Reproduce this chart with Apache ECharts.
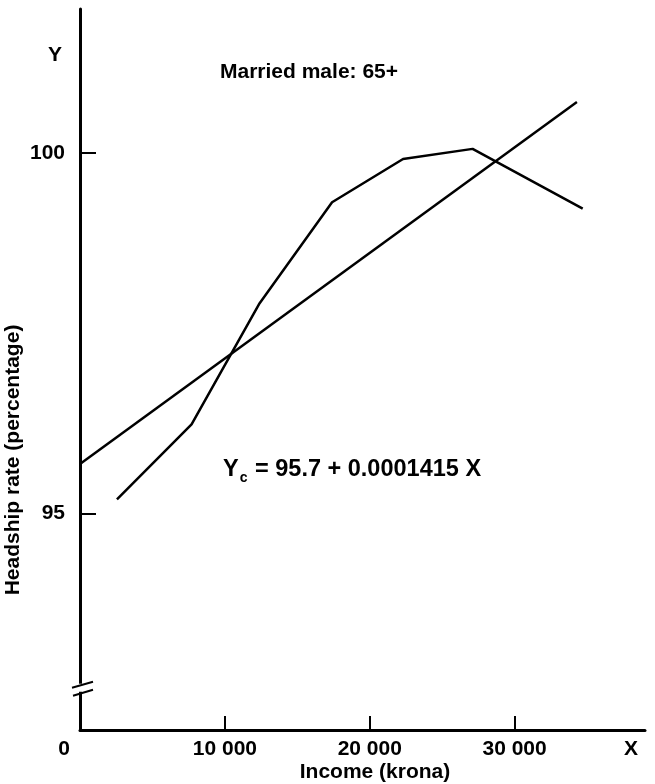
<!DOCTYPE html>
<html>
<head>
<meta charset="utf-8">
<script src="https://cdn.jsdelivr.net/npm/echarts@6/dist/echarts.min.js"></script>
<style>
html,body{margin:0;padding:0;background:#fff;}
#chart{width:655px;height:784px;}
</style>
</head>
<body>
<div id="chart"></div>
<script>
// ---- data ----
const incomeX = [2550, 7700, 12400, 17400, 22300, 27100, 34700];
const headshipRate = [95.20, 96.24, 97.92, 99.32, 99.92, 100.06, 99.23];
const regressionX = [0, 34300];
const regressionY = [95.69, 100.71];
const xTickValues = [0, 10000, 20000, 30000];
const xTickLabels = ['0', '10 000', '20 000', '30 000'];
const yTickValues = [95, 100];
const yTickLabels = ['95', '100'];
const titleText = 'Married male: 65+';
const xAxisTitle = 'Income (krona)';
const yAxisTitle = 'Headship rate (percentage)';

const FONT = '"Liberation Sans", Arial, sans-serif';
const chart = echarts.init(document.getElementById('chart'), null, {renderer: 'canvas'});

const curveData = incomeX.map((x, i) => [x, headshipRate[i]]);
const regData = regressionX.map((x, i) => [x, regressionY[i]]);

chart.setOption({
  animation: false,
  backgroundColor: '#fff',
  grid: {left: 80, right: 10, top: 9, bottom: 54, containLabel: false},
  xAxis: {
    type: 'value', min: 0, max: 39000,
    axisLine: {show: true, lineStyle: {color: '#000', width: 3}},
    axisTick: {show: true, inside: true, length: 14, lineStyle: {color: '#000', width: 2},
      customValues: xTickValues.filter(v => v !== 0)},
    axisLabel: {
      customValues: xTickValues,
      margin: 9,
      color: '#000', fontFamily: FONT, fontWeight: 'bold', fontSize: 21,
      formatter: function (v) {
        const i = xTickValues.indexOf(v);
        const t = i >= 0 ? xTickLabels[i] : '';
        return v === 0 ? '{z|' + t + '}' : t;
      },
      rich: {z: {padding: [0, 32, 0, 0], color: '#000', fontFamily: FONT, fontWeight: 'bold', fontSize: 21}}
    },
    splitLine: {show: false}
  },
  yAxis: {
    type: 'value', min: 92, max: 102,
    axisLine: {show: true, lineStyle: {color: '#000', width: 3}},
    axisTick: {show: true, inside: true, length: 16, lineStyle: {color: '#000', width: 2},
      customValues: yTickValues},
    axisLabel: {
      customValues: yTickValues,
      margin: 15,
      color: '#000', fontFamily: FONT, fontWeight: 'bold', fontSize: 21,
      formatter: function (v) {
        const i = yTickValues.indexOf(v);
        return i >= 0 ? yTickLabels[i] : '';
      }
    },
    splitLine: {show: false}
  },
  series: [
    {type: 'line', data: curveData, symbol: 'none', lineStyle: {color: '#000', width: 2.5}},
    {type: 'line', data: regData, symbol: 'none', lineStyle: {color: '#000', width: 2.5}}
  ]
});

// decorations positioned from the axes
const yBrk = chart.convertToPixel({yAxisIndex: 0}, 92.6);
const x0 = chart.convertToPixel({xAxisIndex: 0}, 0);
const yTop = chart.convertToPixel({yAxisIndex: 0}, 102);
const yAxisLine = chart.convertToPixel({yAxisIndex: 0}, 92);
const txt = {fill: '#000', fontFamily: FONT, fontWeight: 'bold'};

chart.setOption({
  graphic: [
    {type: 'rect', shape: {x: x0 - 4, y: yBrk - 3, width: 8, height: 8}, style: {fill: '#fff'}, z: 100},
    {type: 'line', shape: {x1: x0 - 8, y1: yBrk + 1, x2: x0 + 13, y2: yBrk - 5}, style: {stroke: '#000', lineWidth: 2}, z: 101},
    {type: 'line', shape: {x1: x0 - 7, y1: yBrk + 9, x2: x0 + 13, y2: yBrk + 3}, style: {stroke: '#000', lineWidth: 2}, z: 101},
    {type: 'text', x: 55, y: yTop + 46, style: Object.assign({text: 'Y', fontSize: 21, align: 'center', verticalAlign: 'middle'}, txt)},
    {type: 'text', x: 631, y: yAxisLine + 19, style: Object.assign({text: 'X', fontSize: 21, align: 'center', verticalAlign: 'middle'}, txt)},
    {type: 'text', x: 220, y: 72, style: Object.assign({text: titleText, fontSize: 21, align: 'left', verticalAlign: 'middle'}, txt)},
    {type: 'text', x: 223, y: 469, style: {
      text: '{a|Y}{b|c}{a| = 95.7 + 0.0001415 X}',
      align: 'left', verticalAlign: 'middle',
      rich: {
        a: {fill: '#000', fontFamily: FONT, fontWeight: 'bold', fontSize: 23.5, lineHeight: 26, verticalAlign: 'bottom'},
        b: {fill: '#000', fontFamily: FONT, fontWeight: 'bold', fontSize: 14, lineHeight: 18, verticalAlign: 'bottom', padding: [0, 1, -3, 1]}
      }
    }},
    {type: 'text', x: 375, y: yAxisLine + 42, style: Object.assign({text: xAxisTitle, fontSize: 21, align: 'center', verticalAlign: 'middle'}, txt)},
    {type: 'text', x: 13, y: 460, rotation: Math.PI / 2, style: Object.assign({text: yAxisTitle, fontSize: 21, align: 'center', verticalAlign: 'middle'}, txt)}
  ]
});
</script>
</body>
</html>
